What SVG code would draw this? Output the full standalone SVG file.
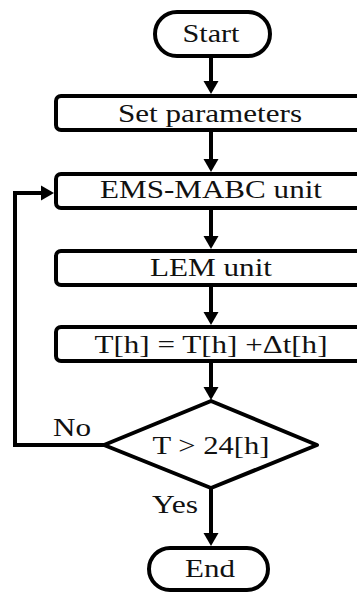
<svg xmlns="http://www.w3.org/2000/svg" width="357" height="594" viewBox="0 0 357 594">
<style>
.box{fill:#fff;stroke:#000;stroke-width:4}
.ln{fill:none;stroke:#000;stroke-width:4}
.hd{fill:#000}
text{font-family:"Liberation Serif","Times New Roman",serif;font-size:26px;fill:#111;text-anchor:middle}
.l{text-anchor:start}
</style>
<rect width="357" height="594" fill="#fff"/>
<g id="connectors">
<path class="ln" d="M211 58V84"/><polygon class="hd" points="203.5,81 218.5,81 211,94"/>
<path class="ln" d="M211 132V162"/><polygon class="hd" points="203.5,159 218.5,159 211,172"/>
<path class="ln" d="M211 210V239"/><polygon class="hd" points="203.5,236 218.5,236 211,249"/>
<path class="ln" d="M211 287V315"/><polygon class="hd" points="203.5,312 218.5,312 211,325"/>
<path class="ln" d="M211 363V390"/><polygon class="hd" points="203.5,387 218.5,387 211,400"/>
<path class="ln" d="M211 488V536"/><polygon class="hd" points="203.5,533 218.5,533 211,546"/>
<path class="ln" d="M104 445H15V193H44"/><polygon class="hd" points="41,185.5 41,200.5 54,193"/>
<text class="l" x="53" y="436" textLength="38" lengthAdjust="spacingAndGlyphs">No</text>
<text class="l" x="152" y="513" textLength="46" lengthAdjust="spacingAndGlyphs">Yes</text>
</g>
<g id="start">
<rect class="box" x="155" y="12" width="115" height="44" rx="22"/>
<text x="211" y="42" textLength="57" lengthAdjust="spacingAndGlyphs">Start</text>
</g>
<g id="set-parameters">
<rect class="box" x="56" y="96" width="320" height="34" rx="5"/>
<text x="210" y="122" textLength="184" lengthAdjust="spacingAndGlyphs">Set parameters</text>
</g>
<g id="ems-mabc">
<rect class="box" x="56" y="174" width="320" height="34" rx="5"/>
<text x="211" y="198" textLength="222" lengthAdjust="spacingAndGlyphs">EMS-MABC unit</text>
</g>
<g id="lem">
<rect class="box" x="56" y="251" width="320" height="34" rx="5"/>
<text x="211" y="276" textLength="122" lengthAdjust="spacingAndGlyphs">LEM unit</text>
</g>
<g id="time-update">
<rect class="box" x="56" y="327" width="320" height="34" rx="5"/>
<text x="211" y="353" textLength="233" lengthAdjust="spacingAndGlyphs">T[h] = T[h] +Δt[h]</text>
</g>
<g id="decision">
<polygon class="box" stroke-linejoin="round" points="211,401 317,445 211,488 104,445"/>
<text x="211" y="454" textLength="117" lengthAdjust="spacingAndGlyphs">T &gt; 24[h]</text>
</g>
<g id="end">
<rect class="box" x="149" y="548" width="119" height="42" rx="21"/>
<text x="210" y="577" textLength="50" lengthAdjust="spacingAndGlyphs">End</text>
</g>
</svg>
